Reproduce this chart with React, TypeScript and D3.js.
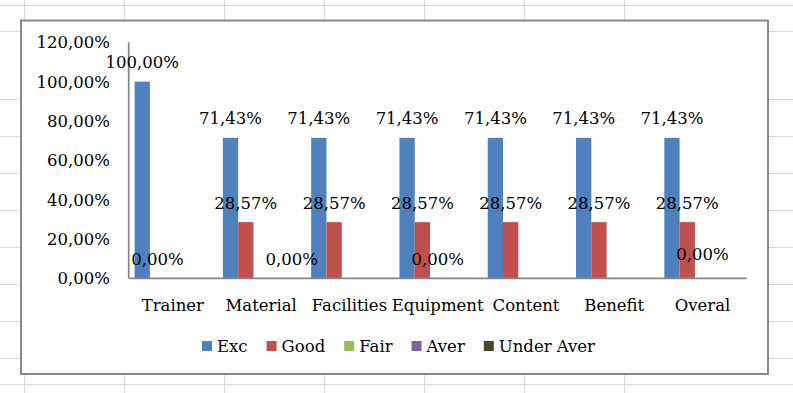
import { useEffect, useRef } from "react";
import * as d3 from "d3";

const CATEGORIES = ["Trainer", "Material", "Facilities", "Equipment", "Content", "Benefit", "Overal"];
const SERIES = ["Exc", "Good", "Fair", "Aver", "Under Aver"];
const EXC = [1.0, 0.7143, 0.7143, 0.7143, 0.7143, 0.7143, 0.7143];
const GOOD = [0, 0.2857, 0.2857, 0.2857, 0.2857, 0.2857, 0.2857];
const FAIR = [0, 0, 0, 0, 0, 0, 0];
const AVER = [0, 0, 0, 0, 0, 0, 0];
const UNDER_AVER = [0, 0, 0, 0, 0, 0, 0];
const VALUES = [EXC, GOOD, FAIR, AVER, UNDER_AVER];
const Y_TICKS = [0, 0.2, 0.4, 0.6, 0.8, 1.0, 1.2];

// which data labels are visible: [series index, category index]
const SHOWN_LABELS: [number, number][] = [
  ...CATEGORIES.map((_, c) => [0, c] as [number, number]),
  ...CATEGORIES.map((_, c) => [1, c] as [number, number]),
  [4, 1],
  [2, 3],
  [2, 6]
];

const COLORS = ["#4f81bd", "#c0504d", "#9bbb59", "#8064a2", "#4a452a"];

// spreadsheet grid behind the chart
const SHEET_COLS = [24.5, 124.5, 224.5, 324.5, 424.5, 524.5, 624.5];
const SHEET_ROWS = [5.5, 31.5, 99.5, 136.5, 173.5, 210.5, 247.5, 284.5, 321.5, 358.5, 384.5];

const W = 793;
const H = 393;
const FONT = "'DejaVu Serif', serif";
const FS = 16.5;

export default function App() {
  const svgRef = useRef<SVGSVGElement>(null);

  useEffect(() => {
    if (!svgRef.current) return;
    const svg = d3.select(svgRef.current);
    svg.selectAll("*").remove();

    const fmt = d3
      .formatLocale({ decimal: ",", thousands: ".", grouping: [3], currency: ["", ""] })
      .format(".2%");

    // sheet grid
    svg
      .append("g")
      .selectAll("line")
      .data(SHEET_COLS)
      .enter()
      .append("line")
      .attr("x1", (d) => d)
      .attr("x2", (d) => d)
      .attr("y1", 0)
      .attr("y2", H)
      .attr("stroke", "#d6d6d6");
    svg
      .append("g")
      .selectAll("line")
      .data(SHEET_ROWS)
      .enter()
      .append("line")
      .attr("x1", 0)
      .attr("x2", W)
      .attr("y1", (d) => d)
      .attr("y2", (d) => d)
      .attr("stroke", "#d6d6d6");

    // chart frame
    svg
      .append("rect")
      .attr("x", 21)
      .attr("y", 20.5)
      .attr("width", 747)
      .attr("height", 353.5)
      .attr("fill", "#fff")
      .attr("stroke", "#898989")
      .attr("stroke-width", 2);

    const plot = { left: 128.7, right: 746.7, top: 42.3, bottom: 278.3 };

    const x0 = d3.scaleBand<string>().domain(CATEGORIES).range([plot.left, plot.right]).padding(0);
    const x1 = d3
      .scaleBand<string>()
      .domain(SERIES)
      .range([0, x0.bandwidth()])
      .paddingInner(0)
      .paddingOuter(0.385);
    const y = d3.scaleLinear().domain([0, 1.2]).range([plot.bottom, plot.top]);

    const addText = (sel: any) =>
      sel
        .attr("dy", "0.36em")
        .attr("font-family", FONT)
        .attr("font-size", FS)
        .attr("fill", "#000");

    // y tick labels
    svg
      .append("g")
      .selectAll("text")
      .data(Y_TICKS)
      .enter()
      .append("text")
      .attr("x", 110)
      .attr("y", (d) => y(d))
      .attr("text-anchor", "end")
      .call(addText)
      .text((d) => fmt(d));

    // bars
    SERIES.forEach((s, si) => {
      svg
        .append("g")
        .selectAll("rect")
        .data(VALUES[si])
        .enter()
        .append("rect")
        .attr("x", (_, i) => (x0(CATEGORIES[i]) ?? 0) + (x1(s) ?? 0))
        .attr("width", x1.bandwidth())
        .attr("y", (d) => y(d))
        .attr("height", (d) => y(0) - y(d))
        .attr("fill", COLORS[si]);
    });

    // axis lines
    svg
      .append("line")
      .attr("x1", plot.left)
      .attr("x2", plot.left)
      .attr("y1", plot.top)
      .attr("y2", plot.bottom)
      .attr("stroke", "#868686")
      .attr("stroke-width", 1.7);
    svg
      .append("line")
      .attr("x1", plot.left)
      .attr("x2", plot.right)
      .attr("y1", plot.bottom)
      .attr("y2", plot.bottom)
      .attr("stroke", "#868686")
      .attr("stroke-width", 1.7);

    // category labels
    svg
      .append("g")
      .selectAll("text")
      .data(CATEGORIES)
      .enter()
      .append("text")
      .attr("x", (d) => (x0(d) ?? 0) + x0.bandwidth() / 2)
      .attr("y", 305)
      .attr("text-anchor", "middle")
      .call(addText)
      .text((d) => d);

    // data labels
    const lastFair = SHOWN_LABELS.length - 1;
    svg
      .append("g")
      .selectAll("text")
      .data(SHOWN_LABELS)
      .enter()
      .append("text")
      .attr("x", ([si, ci]) => (x0(CATEGORIES[ci]) ?? 0) + (x1(SERIES[si]) ?? 0) + x1.bandwidth() / 2)
      .attr("y", ([si, ci], i) => y(VALUES[si][ci]) - (i === lastFair ? 24.5 : 19.5))
      .attr("text-anchor", "middle")
      .call(addText)
      .text(([si, ci]) => fmt(VALUES[si][ci]));

    // legend
    const legend = svg.append("g");
    const items = SERIES.map((s, i) => {
      const g = legend.append("g");
      g.append("rect").attr("width", 10).attr("height", 10).attr("y", -5).attr("fill", COLORS[i]);
      const t = g.append("text").attr("x", 15).call(addText).text(s);
      const w = 15 + (t.node() as SVGTextElement).getComputedTextLength();
      return { g, w };
    });
    const gap = 19;
    const total = d3.sum(items, (d) => d.w) + gap * (items.length - 1);
    let cx = 398.5 - total / 2;
    items.forEach(({ g, w }) => {
      g.attr("transform", `translate(${cx},346)`);
      cx += w + gap;
    });
  }, []);

  return (
    <svg
      ref={svgRef}
      width={W}
      height={H}
      style={{ position: "absolute", left: 0, top: 0, background: "#fff" }}
    />
  );
}
